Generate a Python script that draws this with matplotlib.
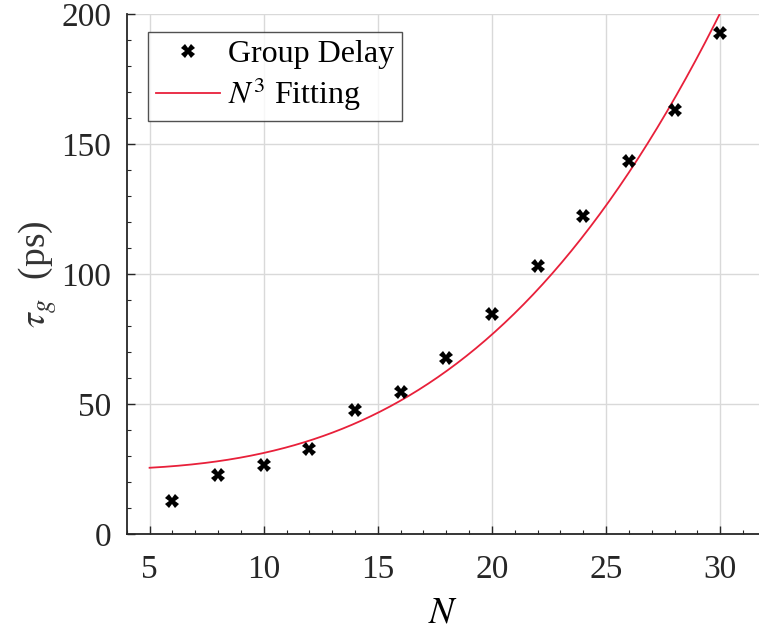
import numpy as np
import matplotlib
matplotlib.use('Agg')
import matplotlib.pyplot as plt
from matplotlib.ticker import MultipleLocator

plt.rcParams['font.family'] = ['Liberation Serif', 'DejaVu Serif']
plt.rcParams['mathtext.fontset'] = 'stix'

# Measured group delay (ps) vs number of stages N
N_meas = [6, 8, 10, 12, 14, 16, 18, 20, 22, 24, 26, 28, 30]
tau_meas = [12.6, 22.8, 26.3, 32.7, 47.6, 54.7, 67.8, 84.6, 103.2, 122.2, 143.3, 163.2, 192.6]

# N^3 fit: tau = a + b * N^3
fit_a = 24.6
fit_b = 0.00651
fit_range = (5, 30)

fig = plt.figure(figsize=(7.59, 6.34), dpi=100)
ax = fig.add_axes([0.167, 0.158, 0.833, 0.82])

N_fit = np.linspace(*fit_range, 300)
ax.plot(N_meas, tau_meas, 'X', color='k', markersize=10, markeredgewidth=0,
        linestyle='none', label='Group Delay', zorder=3)
ax.plot(N_fit, fit_a + fit_b * N_fit**3, '-', color='#e8203a', lw=1.3,
        label=r'$N^3$ Fitting', zorder=2)

ax.set_xlim(4, 31.7)
ax.set_ylim(0, 200)
ax.xaxis.set_major_locator(MultipleLocator(5))
ax.xaxis.set_minor_locator(MultipleLocator(1))
ax.yaxis.set_major_locator(MultipleLocator(50))
ax.yaxis.set_minor_locator(MultipleLocator(10))
ax.tick_params(which='both', direction='in', labelsize=24, colors='#262626')
ax.tick_params(which='major', length=6, width=1)
ax.tick_params(which='minor', length=3, width=0.8)
ax.tick_params(axis='x', pad=15)
ax.tick_params(axis='y', pad=11)

ax.spines['top'].set_visible(False)
ax.spines['right'].set_visible(False)
for s in ('left', 'bottom'):
    ax.spines[s].set_linewidth(1.3)
    ax.spines[s].set_color('#262626')

ax.grid(True, which='major', color='#d9d9d9', lw=1)
ax.set_axisbelow(True)

ax.set_xlabel(r'$N$', fontsize=27, labelpad=8)
ax.set_ylabel(r'$\tau_g$  (ps)', fontsize=27, labelpad=2, color='#333333')

leg = ax.legend(loc='upper left', bbox_to_anchor=(0.034, 0.966), fontsize=23,
                frameon=True, fancybox=False, edgecolor='#262626',
                handlelength=2.0, borderpad=0.25, labelspacing=0.2,
                handletextpad=0.25, borderaxespad=0)
leg.get_frame().set_linewidth(1.0)

fig.savefig('out.png', dpi=100)
